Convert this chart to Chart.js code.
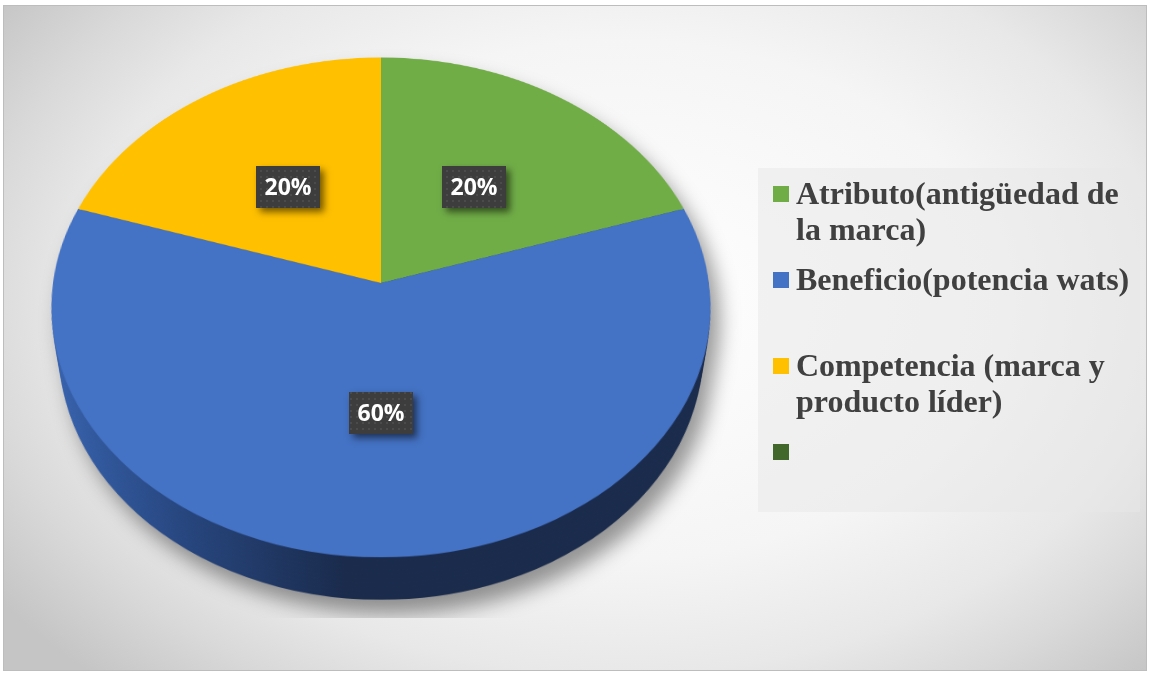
<!DOCTYPE html>
<html>
<head>
<meta charset="utf-8">
<script src="https://cdn.jsdelivr.net/npm/chart.js@4.4.1/dist/chart.umd.min.js"></script>
<style>
  html, body { margin: 0; padding: 0; background: #fff; overflow: hidden; }
  #stage { position: absolute; left: 0; top: 0; width: 1150px; height: 674px; overflow: hidden; }
  #bg, #overlay { position: absolute; left: 0; top: 0; }
  .disc { position: absolute; left: 53px; top: -45px; width: 656px; height: 656px; transform-origin: 50% 50%; }
  .disc canvas { position: absolute; left: 0; top: 0; }
</style>
</head>
<body>
<div id="stage">
  <canvas id="bg" width="1150" height="674"></canvas>
  <div id="layers"></div>
  <canvas id="overlay" width="1150" height="674"></canvas>
</div>
<script>
const categories = [
  'Atributo(antigüedad de la marca)',
  'Beneficio(potencia wats)',
  'Competencia (marca y producto líder)',
  ''
];
const shares = [20, 60, 20, 0];

const topColors = ['#70AD47', '#4472C4', '#FFC000', '#43682B'];
// side wall shades: [light edge, middle, dark edge]
const sideShades = [
  ['#4f7d32', '#3b5f25', '#2c4a1b'],
  ['#3864b0', '#27467f', '#1a2b4c'],
  ['#c29200', '#9a7400', '#7a5c00'],
  ['#30501e', '#263f18', '#1d3112']
];

// 3D pie geometry
const cx = 381, cy = 283, R = 328;
const tilt = 41 * Math.PI / 180;
const persp = 2200;
const depth = 70;
const wallSteps = 10;

function project(lx, ly, lz) {
  const y = ly * Math.cos(tilt) - lz * Math.sin(tilt);
  const z = ly * Math.sin(tilt) + lz * Math.cos(tilt);
  const s = persp / (persp - z);
  return [cx + lx * s, cy + y * s];
}

function discTransform(h) {
  return 'perspective(' + persp + 'px) rotateX(' + (tilt * 180 / Math.PI) + 'deg) translateZ(' + (-h) + 'px)';
}

function makePie(colors, h) {
  const wrap = document.createElement('div');
  wrap.className = 'disc';
  wrap.style.transform = discTransform(h);
  const cv = document.createElement('canvas');
  cv.width = 656;
  cv.height = 656;
  wrap.appendChild(cv);
  document.getElementById('layers').appendChild(wrap);
  const c2d = cv.getContext('2d');
  const bg = typeof colors === 'function' ? colors(c2d) : colors;
  return new Chart(cv, {
    type: 'pie',
    data: {
      labels: categories,
      datasets: [{
        data: shares,
        backgroundColor: bg,
        borderWidth: 0,
        hoverOffset: 0
      }]
    },
    options: {
      responsive: false,
      animation: false,
      events: [],
      layout: { padding: 0 },
      plugins: {
        legend: { display: false },
        tooltip: { enabled: false }
      }
    }
  });
}

// background and cast shadow
function drawBackground() {
  const ctx = document.getElementById('bg').getContext('2d');
  ctx.fillStyle = '#fff';
  ctx.fillRect(0, 0, 1150, 674);

  ctx.save();
  ctx.beginPath();
  ctx.rect(3, 5, 1144, 666);
  ctx.clip();
  ctx.translate(620, 300);
  ctx.scale(1, 520 / 760);
  const g = ctx.createRadialGradient(0, 0, 0, 0, 0, 760);
  g.addColorStop(0, '#ffffff');
  g.addColorStop(0.5, '#f5f5f5');
  g.addColorStop(0.72, '#e8e8e8');
  g.addColorStop(0.85, '#d9d9d9');
  g.addColorStop(1, '#c5c5c5');
  ctx.fillStyle = g;
  ctx.fillRect(-800, -800, 1600, 1600);
  ctx.restore();

  // soft shadow of the whole pie
  const off = document.createElement('canvas');
  off.width = 1150;
  off.height = 674;
  const o = off.getContext('2d');
  o.fillStyle = '#000';
  for (let k = 0; k <= 14; k++) {
    const lz = -depth * k / 14;
    o.beginPath();
    for (let a = 0; a <= 360; a += 3) {
      const t = a * Math.PI / 180;
      const p = project(R * Math.cos(t), R * Math.sin(t), lz);
      if (a === 0) o.moveTo(p[0], p[1]); else o.lineTo(p[0], p[1]);
    }
    o.closePath();
    o.fill();
  }
  ctx.save();
  ctx.beginPath();
  ctx.rect(33, 5, 1114, 613);
  ctx.clip();
  ctx.filter = 'blur(10px)';
  ctx.globalAlpha = 0.4;
  ctx.drawImage(off, 9, 14);
  ctx.restore();

  ctx.strokeStyle = '#bdbdbd';
  ctx.lineWidth = 1;
  ctx.strokeRect(3.5, 5.5, 1143, 665);
}

drawBackground();

// side wall, stacked from the bottom up
for (let k = wallSteps; k >= 1; k--) {
  makePie(function (c2d) {
    return sideShades.map(function (s) {
      const g = c2d.createLinearGradient(0, 0, 656, 0);
      g.addColorStop(0, s[0]);
      g.addColorStop(0.22, s[1]);
      g.addColorStop(0.45, s[2]);
      g.addColorStop(1, s[2]);
      return g;
    });
  }, depth * k / wallSteps);
}

// top face
const pieChart = makePie(topColors, 0);

// legend and percentage labels
function drawOverlay() {
  const ctx = document.getElementById('overlay').getContext('2d');

  // legend
  const box = { x: 758, y: 168, w: 382, h: 344 };
  ctx.fillStyle = 'rgba(232,232,232,0.5)';
  ctx.fillRect(box.x, box.y, box.w, box.h);

  ctx.font = 'bold 32px "Liberation Serif", "Times New Roman", serif';
  ctx.textAlign = 'left';
  ctx.textBaseline = 'alphabetic';
  categories.forEach(function (label, i) {
    const base = 204 + i * 86;
    ctx.fillStyle = topColors[i];
    ctx.fillRect(773, base - 18, 16, 16);
    ctx.fillStyle = '#404040';
    const words = label.split(' ');
    const lines = [];
    let line = '';
    words.forEach(function (w) {
      const test = line ? line + ' ' + w : w;
      if (line && ctx.measureText(test).width > 342) {
        lines.push(line);
        line = w;
      } else {
        line = test;
      }
    });
    if (line) lines.push(line);
    lines.forEach(function (l, j) {
      ctx.fillText(l, 796, base + j * 36);
    });
  });

  // dotted fill for the value boxes
  const tile = document.createElement('canvas');
  tile.width = 6;
  tile.height = 6;
  const t = tile.getContext('2d');
  t.fillStyle = '#3d3d3d';
  t.fillRect(0, 0, 6, 6);
  t.fillStyle = '#4b4b4b';
  t.fillRect(2, 2, 2, 2);
  const dots = ctx.createPattern(tile, 'repeat');

  const meta = pieChart.getDatasetMeta(0);
  const total = shares.reduce(function (a, b) { return a + b; }, 0);
  meta.data.forEach(function (arc, i) {
    if (!shares[i]) return;
    const mid = (arc.startAngle + arc.endAngle) / 2;
    const p = project(R * 0.5 * Math.cos(mid), R * 0.5 * Math.sin(mid), 0);
    const w = 64, h = 42;
    const x = Math.round(p[0] - w / 2), y = Math.round(p[1] - h / 2);
    ctx.save();
    ctx.shadowColor = 'rgba(0,0,0,0.55)';
    ctx.shadowBlur = 7;
    ctx.shadowOffsetX = 4;
    ctx.shadowOffsetY = 4;
    ctx.fillStyle = '#3d3d3d';
    ctx.fillRect(x, y, w, h);
    ctx.restore();
    ctx.fillStyle = dots;
    ctx.fillRect(x, y, w, h);
    ctx.fillStyle = '#ffffff';
    ctx.font = 'bold 23px "Open Sans", sans-serif';
    ctx.textAlign = 'center';
    ctx.textBaseline = 'middle';
    ctx.fillText(Math.round(shares[i] / total * 100) + '%', x + w / 2, y + h / 2 + 1);
  });
}

drawOverlay();
</script>
</body>
</html>
